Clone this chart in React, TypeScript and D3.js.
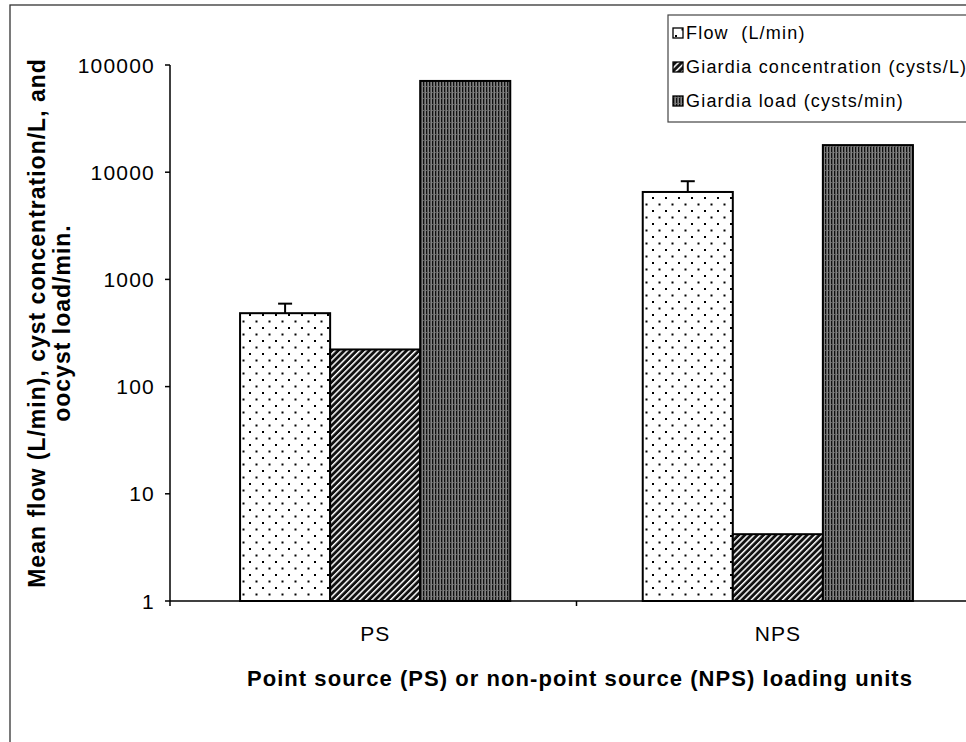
import React from "react";
import * as d3 from "d3";

const categories = ["PS", "NPS"];
const seriesNames = ["Flow  (L/min)", "Giardia concentration (cysts/L)", "Giardia load (cysts/min)"];
const flowValues = [484, 6540];
const flowErrorTop = [594, 8240];
const concValues = [222, 4.2];
const loadValues = [71000, 17900];
const yTicks = [1, 10, 100, 1000, 10000, 100000];
const yTickLabels = ["1", "10", "100", "1000", "10000", "100000"];

const W = 966;
const H = 742;
const FONT = "'Liberation Sans', Arial, sans-serif";

export default function App() {
  const y = d3.scaleLog().domain([1, 100000]).range([601, 65]);
  const x0 = d3.scaleBand().domain(categories).range([170, 983]).paddingInner(0.329).paddingOuter(0.174);
  const x1 = d3.scaleBand().domain(seriesNames).range([0, x0.bandwidth()]).padding(0);
  const seriesData = [flowValues, concValues, loadValues];
  const fills = ["url(#dots)", "url(#hatch)", "url(#vlines)"];
  const baseY = y(1);

  return (
    <svg width={W} height={H} style={{ position: "absolute", left: 0, top: 0, display: "block", background: "#fff" }}>
      <defs>
        <pattern id="dots" patternUnits="userSpaceOnUse" width={13} height={13}>
          <rect width={13} height={13} fill="#fff" />
          <rect x={2} y={2} width={2} height={2} fill="#000" />
          <rect x={8.5} y={8.5} width={2} height={2} fill="#000" />
        </pattern>
        <pattern id="hatch" patternUnits="userSpaceOnUse" width={4.4} height={4.4} patternTransform="rotate(45)">
          <rect width={4.4} height={4.4} fill="#111" />
          <rect x={0} y={0} width={1.5} height={4.4} fill="#fff" />
        </pattern>
        <pattern id="vlines" patternUnits="userSpaceOnUse" width={3} height={6}>
          <rect width={3} height={6} fill="#111" />
          <rect x={1.6} y={0} width={1} height={6} fill="#ccc" />
          <rect x={0} y={2} width={0.8} height={1} fill="#777" />
        </pattern>
      </defs>

      {/* outer frame */}
      <rect x={10} y={5} width={W + 20} height={H + 20} fill="none" stroke="#333" strokeWidth={1.3} />

      {/* bars */}
      {categories.map((c, ci) => (
        <g key={c}>
          {seriesNames.map((s, si) => {
            const v = seriesData[si][ci];
            const bx = (x0(c) as number) + (x1(s) as number);
            const by = y(v);
            return (
              <rect key={s} x={bx} y={by} width={x1.bandwidth()} height={baseY - by}
                fill={fills[si]} stroke="#000" strokeWidth={2} />
            );
          })}
          {(() => {
            const cx = (x0(c) as number) + (x1(seriesNames[0]) as number) + x1.bandwidth() / 2;
            return (
              <g>
                <line x1={cx} x2={cx} y1={y(flowValues[ci])} y2={y(flowErrorTop[ci])} stroke="#000" strokeWidth={2} />
                <line x1={cx - 7} x2={cx + 7} y1={y(flowErrorTop[ci])} y2={y(flowErrorTop[ci])} stroke="#000" strokeWidth={2} />
              </g>
            );
          })()}
        </g>
      ))}

      {/* y axis */}
      <line x1={170} x2={170} y1={y(100000)} y2={baseY} stroke="#000" strokeWidth={1.5} />
      {yTicks.map((t, i) => (
        <g key={t}>
          <line x1={165} x2={170} y1={y(t)} y2={y(t)} stroke="#000" strokeWidth={1.5} />
          <text x={155} y={y(t)} dy="0.36em" textAnchor="end" fontFamily={FONT} fontSize={21} letterSpacing={1.2}
            fill="#000">{yTickLabels[i]}</text>
        </g>
      ))}

      {/* x axis */}
      <line x1={170} x2={W} y1={baseY} y2={baseY} stroke="#000" strokeWidth={1.5} />
      {[170, (x0("NPS") as number) - (x0.step() - x0.bandwidth()) / 2].map((tx) => (
        <line key={tx} x1={tx} x2={tx} y1={baseY} y2={baseY + 5} stroke="#000" strokeWidth={1.5} />
      ))}
      {categories.map((c) => (
        <text key={c} x={(x0(c) as number) + x0.bandwidth() / 2} y={641} textAnchor="middle" fontFamily={FONT}
          fontSize={21} letterSpacing={1} fill="#000">{c}</text>
      ))}

      <text x={580} y={686} textAnchor="middle" fontFamily={FONT} fontSize={22} fontWeight="bold" letterSpacing={1.05}
        fill="#000">Point source (PS) or non-point source (NPS) loading units</text>

      {/* y title */}
      <g transform="translate(37,323) rotate(-90)">
        <text x={0} y={0} dy="0.35em" textAnchor="middle" fontFamily={FONT} fontSize={23} fontWeight="bold"
          letterSpacing={1.0} fill="#000">Mean flow (L/min), cyst concentration/L, and</text>
        <text x={0} y={25} dy="0.35em" textAnchor="middle" fontFamily={FONT} fontSize={23} fontWeight="bold"
          letterSpacing={1.0} fill="#000">oocyst load/min.</text>
      </g>

      {/* legend */}
      <rect x={668} y={15} width={320} height={107} fill="#fff" stroke="#444" strokeWidth={1.2} />
      {seriesNames.map((s, i) => (
        <g key={s} transform={`translate(673, ${33 + i * 34})`}>
          <rect x={0} y={-5} width={10} height={10} fill={fills[i]} stroke="#000" strokeWidth={1.3} />
          <text x={13} y={0} dy="0.36em" fontFamily={FONT} fontSize={18} letterSpacing={1.2} fill="#000"
            style={{ whiteSpace: "pre" }}>{s}</text>
        </g>
      ))}
    </svg>
  );
}
